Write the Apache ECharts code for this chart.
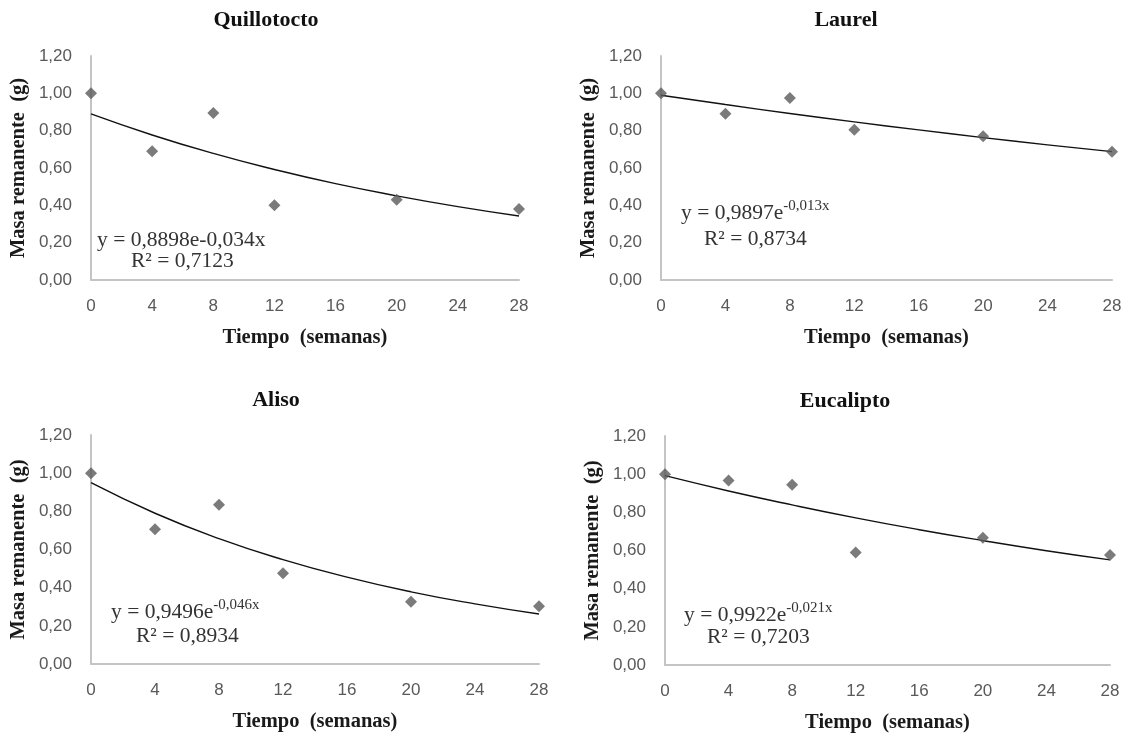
<!DOCTYPE html>
<html><head><meta charset="utf-8">
<script src="https://cdn.jsdelivr.net/npm/echarts@6/dist/echarts.min.js"></script>
<style>html,body{margin:0;padding:0;background:#fff}#c{width:1128px;height:735px}</style>
</head><body><div id="c"></div>
<script>
// ---- data ----
const weeks = [0, 4, 8, 12, 20, 28];
const fitWeeks = [0, 4, 8, 12, 16, 20, 24, 28];
const panelTitles = ['Quillotocto', 'Laurel', 'Aliso', 'Eucalipto'];
const quillotocto = [1.00, 0.69, 0.895, 0.40, 0.43, 0.38];
const laurel      = [1.00, 0.89, 0.975, 0.805, 0.77, 0.687];
const aliso       = [1.00, 0.706, 0.835, 0.475, 0.326, 0.303];
const eucalipto   = [1.00, 0.967, 0.944, 0.59, 0.667, 0.576];
// trend lines (read at fitWeeks)
const quillotoctoFit = [0.890, 0.777, 0.678, 0.592, 0.516, 0.451, 0.393, 0.343];
const laurelFit      = [0.990, 0.940, 0.892, 0.847, 0.804, 0.763, 0.724, 0.688];
const alisoFit       = [0.950, 0.790, 0.657, 0.547, 0.455, 0.378, 0.315, 0.262];
const eucaliptoFit   = [0.992, 0.912, 0.839, 0.771, 0.709, 0.652, 0.599, 0.551];
const eqCoef = ['0,8898', '0,9897', '0,9496', '0,9922'];
const eqExp  = ['-0,034x', '-0,013x', '-0,046x', '-0,021x'];
const eqSup  = [false, true, true, true];
const r2Text = ['0,7123', '0,8734', '0,8934', '0,7203'];
const xAxisName = 'Tiempo  (semanas)';
const yAxisName = 'Masa remanente  (g)';

const pts = [quillotocto, laurel, aliso, eucalipto];
const fits = [quillotoctoFit, laurelFit, alisoFit, eucaliptoFit];

// ---- layout ----
const grids = [
  {left: 91, top: 56, width: 428, height: 224},
  {left: 661, top: 56, width: 451, height: 224},
  {left: 91, top: 435, width: 448, height: 229},
  {left: 665, top: 436, width: 445, height: 229}
];
const titlePos = [[266, 20], [846, 20], [276, 400], [845, 401]];
const eqPos = [[97, 240, 131, 261], [681, 213, 704, 239], [111, 612, 136, 636], [684, 615, 707, 637]];

const serif = '"Liberation Serif", "Times New Roman", serif';
const sans = '"Liberation Sans", Arial, sans-serif';

const option = {
  backgroundColor: '#fff',
  animation: false,
  grid: grids,
  xAxis: grids.map((g, i) => ({
    type: 'value', gridIndex: i, min: 0, max: 28, interval: 4,
    name: xAxisName, nameLocation: 'middle', nameGap: 47,
    nameTextStyle: {fontFamily: serif, fontWeight: 'bold', fontSize: 20.5, color: '#1a1a1a'},
    axisLine: {lineStyle: {color: '#c4c4c4', width: 2}},
    axisTick: {show: false},
    splitLine: {show: false},
    axisLabel: {fontFamily: sans, fontSize: 17, color: '#595959', margin: 18}
  })),
  yAxis: grids.map((g, i) => ({
    type: 'value', gridIndex: i, min: 0, max: 1.2, interval: 0.2,
    name: yAxisName, nameLocation: 'middle', nameGap: 62,
    nameTextStyle: {fontFamily: serif, fontWeight: 'bold', fontSize: 20.5, color: '#1a1a1a'},
    axisLine: {show: true, lineStyle: {color: '#c4c4c4', width: 2}},
    axisTick: {show: false},
    splitLine: {show: false},
    axisLabel: {fontFamily: sans, fontSize: 17, color: '#595959', margin: 19,
      formatter: v => v.toFixed(2).replace('.', ',')}
  })),
  series: [].concat(
    pts.map((d, i) => ({
      type: 'scatter', xAxisIndex: i, yAxisIndex: i,
      symbol: 'diamond', symbolSize: 12,
      itemStyle: {color: '#5a5a5a'},
      data: weeks.map((w, k) => [w, d[k]]), z: 3
    })),
    fits.map((d, i) => ({
      type: 'line', xAxisIndex: i, yAxisIndex: i, smooth: true, showSymbol: false,
      lineStyle: {color: '#111', width: 1.4},
      data: fitWeeks.map((w, k) => [w, d[k]]), z: 2
    }))
  ),
  graphic: [].concat(
    panelTitles.map((t, i) => ({
      type: 'text', x: titlePos[i][0], y: titlePos[i][1],
      style: {text: t, font: 'bold 22px ' + serif, fill: '#111', align: 'center', verticalAlign: 'middle'}
    })),
    eqCoef.map((c, i) => ({
      type: 'text', x: eqPos[i][0], y: eqPos[i][1],
      style: {
        text: eqSup[i] ? ('y = ' + c + 'e{sup|' + eqExp[i] + '}') : ('y = ' + c + 'e' + eqExp[i]),
        font: '21.5px ' + serif, fill: '#333', align: 'left', verticalAlign: 'middle',
        rich: {sup: {fontSize: 15, fontFamily: serif, fill: '#333', padding: [0, 0, 13, 0]}}
      }
    })),
    r2Text.map((r, i) => ({
      type: 'text', x: eqPos[i][2], y: eqPos[i][3],
      style: {text: 'R² = ' + r, font: '21.5px ' + serif, fill: '#333', align: 'left', verticalAlign: 'middle'}
    }))
  )
};
echarts.init(document.getElementById('c')).setOption(option);
</script></body></html>
